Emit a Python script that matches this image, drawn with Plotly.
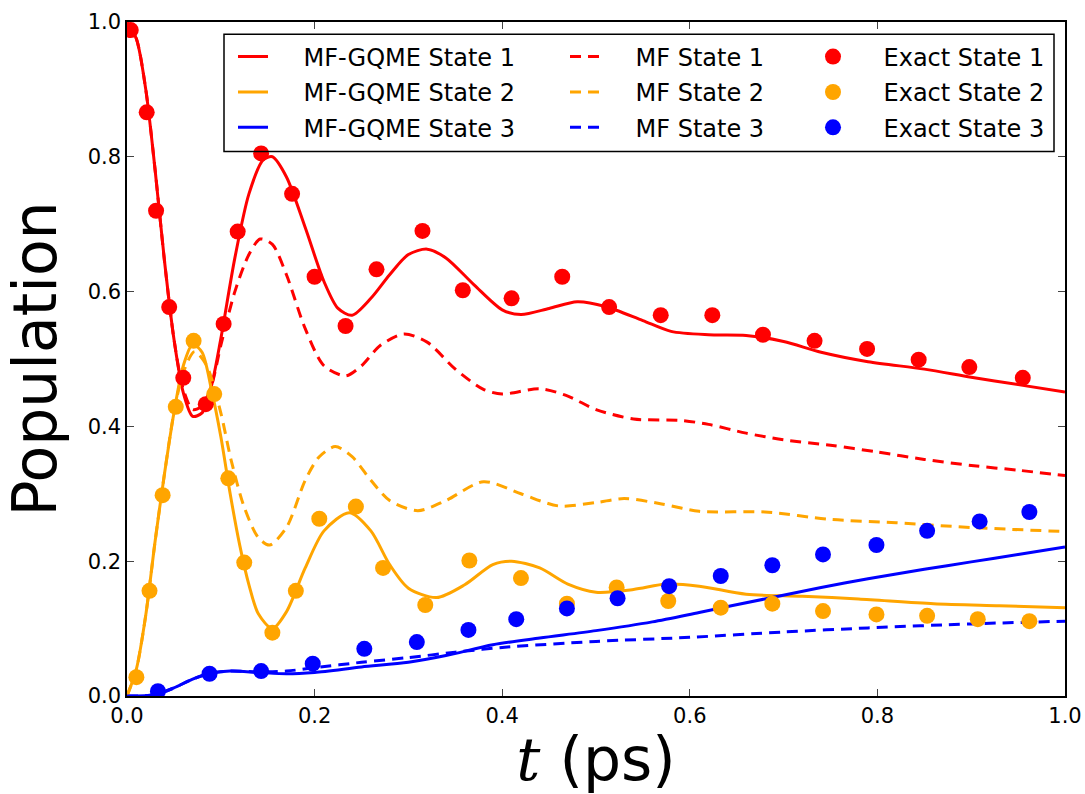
import plotly.graph_objects as go

# ---- MF-GQME populations (solid) ----
t_gqme1 = [0.0, 0.01, 0.02, 0.03, 0.04, 0.05, 0.06, 0.07, 0.08, 0.09, 0.10, 0.115, 0.13, 0.145,
           0.155, 0.17, 0.19, 0.21, 0.225, 0.24, 0.26, 0.28, 0.30, 0.32, 0.34, 0.37, 0.40, 0.42,
           0.45, 0.48, 0.51, 0.55, 0.58, 0.62, 0.66, 0.70, 0.74, 0.79, 0.85, 0.90, 0.95, 1.0]
p_gqme1 = [1.0, 0.975, 0.90, 0.78, 0.645, 0.53, 0.45, 0.415, 0.42, 0.46, 0.53, 0.65, 0.745, 0.795,
           0.80, 0.77, 0.695, 0.615, 0.575, 0.565, 0.59, 0.625, 0.655, 0.663, 0.65, 0.61, 0.573, 0.566,
           0.575, 0.585, 0.578, 0.557, 0.541, 0.536, 0.535, 0.526, 0.51, 0.496, 0.485, 0.473, 0.462, 0.451]

t_gqme2 = [0.0, 0.01, 0.02, 0.03, 0.04, 0.05, 0.06, 0.07, 0.08, 0.09, 0.10, 0.11, 0.12, 0.13, 0.14,
           0.155, 0.17, 0.19, 0.21, 0.237, 0.26, 0.28, 0.30, 0.33, 0.36, 0.39, 0.41, 0.44, 0.47, 0.50,
           0.54, 0.575, 0.61, 0.66, 0.72, 0.78, 0.86, 0.93, 1.0]
p_gqme2 = [0.0, 0.04, 0.12, 0.23, 0.33, 0.42, 0.49, 0.522, 0.51, 0.455, 0.385, 0.30, 0.225, 0.165, 0.122,
           0.100, 0.125, 0.19, 0.245, 0.272, 0.245, 0.195, 0.16, 0.146, 0.165, 0.195, 0.20, 0.19, 0.166, 0.154,
           0.158, 0.166, 0.163, 0.151, 0.148, 0.144, 0.137, 0.134, 0.131]

t_gqme3 = [0.0, 0.03, 0.05, 0.07, 0.09, 0.11, 0.14, 0.17, 0.20, 0.25, 0.30, 0.34, 0.39, 0.44, 0.50,
           0.56, 0.61, 0.68, 0.74, 0.79, 0.85, 0.90, 0.95, 1.0]
p_gqme3 = [0.0, 0.002, 0.012, 0.025, 0.034, 0.037, 0.035, 0.033, 0.035, 0.043, 0.050, 0.060, 0.076, 0.086, 0.097,
           0.110, 0.124, 0.144, 0.161, 0.174, 0.188, 0.199, 0.210, 0.221]

# ---- MF (Ehrenfest) populations (dashed) ----
t_mf1 = [0.0, 0.01, 0.02, 0.03, 0.04, 0.05, 0.06, 0.07, 0.08, 0.09, 0.10, 0.115, 0.13, 0.142, 0.155,
         0.17, 0.19, 0.21, 0.233, 0.25, 0.27, 0.295, 0.32, 0.35, 0.38, 0.40, 0.44, 0.47, 0.50, 0.54,
         0.59, 0.62, 0.66, 0.70, 0.75, 0.80, 0.85, 0.90, 0.95, 1.0]
p_mf1 = [1.0, 0.975, 0.90, 0.78, 0.645, 0.53, 0.455, 0.425, 0.43, 0.46, 0.52, 0.60, 0.655, 0.678, 0.67,
         0.625, 0.545, 0.49, 0.475, 0.49, 0.52, 0.537, 0.525, 0.485, 0.455, 0.448, 0.456, 0.445, 0.425, 0.411,
         0.409, 0.403, 0.39, 0.38, 0.372, 0.362, 0.351, 0.342, 0.335, 0.327]

t_mf2 = [0.0, 0.01, 0.02, 0.03, 0.04, 0.05, 0.06, 0.072, 0.085, 0.10, 0.111, 0.125, 0.14, 0.152, 0.17,
         0.19, 0.205, 0.222, 0.24, 0.26, 0.28, 0.31, 0.34, 0.38, 0.42, 0.46, 0.50, 0.53, 0.57, 0.61,
         0.68, 0.75, 0.82, 0.90, 1.0]
p_mf2 = [0.0, 0.04, 0.12, 0.23, 0.33, 0.42, 0.48, 0.511, 0.49, 0.42, 0.35, 0.28, 0.235, 0.224, 0.25,
         0.32, 0.355, 0.370, 0.355, 0.32, 0.29, 0.275, 0.29, 0.318, 0.30, 0.282, 0.287, 0.293, 0.285, 0.274,
         0.273, 0.262, 0.257, 0.250, 0.244]

t_mf3 = [0.0, 0.03, 0.05, 0.07, 0.09, 0.11, 0.14, 0.17, 0.20, 0.25, 0.30, 0.35, 0.40, 0.50, 0.60,
         0.70, 0.79, 0.90, 1.0]
p_mf3 = [0.0, 0.002, 0.012, 0.025, 0.034, 0.037, 0.036, 0.037, 0.042, 0.050, 0.057, 0.065, 0.072, 0.081, 0.087,
         0.095, 0.101, 0.107, 0.111]

# ---- Exact populations (markers) ----
t_ex1 = [0.004, 0.021, 0.031, 0.045, 0.060, 0.084, 0.103, 0.118, 0.143, 0.176, 0.200, 0.233, 0.266,
         0.315, 0.358, 0.410, 0.464, 0.514, 0.569, 0.624, 0.678, 0.733, 0.789, 0.844, 0.898, 0.955]
p_ex1 = [0.988, 0.866, 0.720, 0.577, 0.472, 0.433, 0.552, 0.689, 0.805, 0.745, 0.622, 0.549, 0.633,
         0.690, 0.602, 0.590, 0.622, 0.577, 0.565, 0.565, 0.536, 0.527, 0.515, 0.499, 0.488, 0.472]

t_ex2 = [0.010, 0.024, 0.038, 0.052, 0.071, 0.093, 0.108, 0.125, 0.155, 0.180, 0.205, 0.244, 0.273,
         0.318, 0.365, 0.420, 0.469, 0.522, 0.577, 0.633, 0.688, 0.742, 0.799, 0.853, 0.907, 0.962]
p_ex2 = [0.028, 0.156, 0.298, 0.429, 0.527, 0.448, 0.323, 0.198, 0.094, 0.156, 0.263, 0.281, 0.190,
         0.135, 0.201, 0.175, 0.137, 0.161, 0.141, 0.131, 0.137, 0.126, 0.121, 0.119, 0.114, 0.111]

t_ex3 = [0.033, 0.088, 0.143, 0.198, 0.253, 0.309, 0.364, 0.415, 0.469, 0.523, 0.578, 0.633, 0.688,
         0.742, 0.799, 0.853, 0.909, 0.962]
p_ex3 = [0.007, 0.033, 0.037, 0.048, 0.070, 0.080, 0.098, 0.114, 0.130, 0.145, 0.163, 0.178, 0.194,
         0.210, 0.224, 0.245, 0.259, 0.273]

colors = ["#ff0000", "#ffa500", "#0000ff"]
state_names = ["State 1", "State 2", "State 3"]

FONT = "DejaVu Sans"
PAD = "\u00a0" * 4  # gap between legend symbol and label

fig = go.Figure()

gqme = [(t_gqme1, p_gqme1), (t_gqme2, p_gqme2), (t_gqme3, p_gqme3)]
mf = [(t_mf1, p_mf1), (t_mf2, p_mf2), (t_mf3, p_mf3)]
exact = [(t_ex1, p_ex1), (t_ex2, p_ex2), (t_ex3, p_ex3)]

for i, (t, p) in enumerate(gqme):
    fig.add_trace(go.Scatter(
        x=t, y=p, mode="lines", name=PAD + "MF-GQME " + state_names[i],
        line=dict(color=colors[i], width=3, shape="spline", smoothing=0.8),
        legend="legend", legendgroup="g%d" % i, legendrank=i))

for i, (t, p) in enumerate(mf):
    fig.add_trace(go.Scatter(
        x=t, y=p, mode="lines", name=PAD + "MF " + state_names[i],
        line=dict(color=colors[i], width=3, dash="11px,7px", shape="spline", smoothing=0.8),
        legend="legend2", legendgroup="m%d" % i, legendrank=i))

for i, (t, p) in enumerate(exact):
    fig.add_trace(go.Scatter(
        x=t, y=p, mode="markers", name=PAD + "Exact " + state_names[i],
        marker=dict(color=colors[i], size=16, line=dict(width=0)),
        legend="legend3", legendgroup="e%d" % i, legendrank=i))

axis_common = dict(
    range=[0, 1], dtick=0.2, tickformat=".1f",
    showgrid=False, zeroline=False,
    showline=True, linecolor="black", linewidth=1.5, mirror="ticks",
    ticks="inside", ticklen=7, tickwidth=1, tickcolor="#444444",
    tickfont=dict(family=FONT, size=21, color="black"),
)

legend_common = dict(
    bgcolor="rgba(0,0,0,0)", borderwidth=0,
    font=dict(family=FONT, size=24, color="black"),
    itemwidth=30, tracegroupgap=1.2, orientation="v",
    xanchor="left", yanchor="top", y=0.9815,
)

fig.update_layout(
    width=1085, height=794,
    margin=dict(l=127, r=20, t=22, b=98, autoexpand=False),
    paper_bgcolor="white", plot_bgcolor="white",
    font=dict(family=FONT, color="black"),
    xaxis=dict(axis_common, title=dict(
        text='<span style="font-family:DejaVu Serif"><i>t</i></span> (ps)',
        font=dict(family=FONT, size=60), standoff=0)),
    yaxis=dict(axis_common, title=dict(
        text="Population", font=dict(family=FONT, size=60), standoff=14)),
    legend=dict(legend_common, x=(233 - 127) / 938),
    legend2=dict(legend_common, x=(565 - 127) / 938),
    legend3=dict(legend_common, x=(813 - 127) / 938),
    shapes=[dict(type="rect", xref="paper", yref="paper",
                 x0=(224 - 127) / 938, x1=(1054 - 127) / 938,
                 y0=(695.7 - 152) / 673, y1=(695.7 - 35) / 673,
                 line=dict(color="black", width=1.5), fillcolor="rgba(0,0,0,0)",
                 layer="above")],
)

fig.write_html("out.html")
